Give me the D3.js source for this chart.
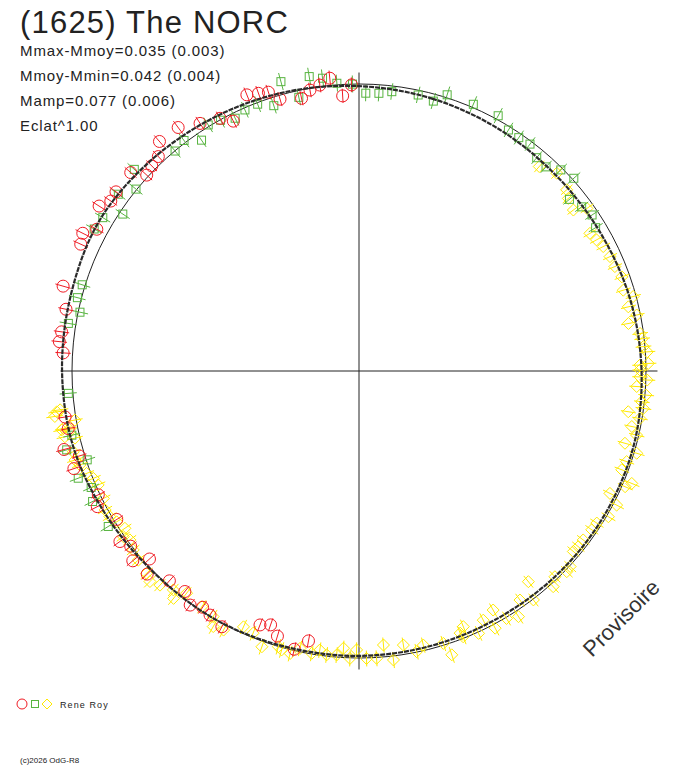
<!DOCTYPE html>
<html>
<head>
<meta charset="utf-8">
<script src="https://cdn.jsdelivr.net/npm/d3@7"></script>
<style>
  body { margin: 0; background: #fff; }
  text { font-family: "Liberation Sans", Arial, sans-serif; fill: #222; }
</style>
</head>
<body>
<div id="chart"></div>
<script>
// polar light curve : angle = rotational phase (deg), radius = brightness
var width = 688, height = 768,
    cx = 359, cy = 371,          // centre of the polar plot
    R = 287;                     // radius of the mean-brightness circle

var title = "(1625) The NORC";
var infoLines = ["Mmax-Mmoy=0.035 (0.003)", "Mmoy-Mmin=0.042 (0.004)", "Mamp=0.077 (0.006)", "Eclat^1.00"];
var observer = "Rene Roy";

// session 1 (red circles) : phase in degrees, delta magnitude
var redPhase = [190.6, 193.1, 197.1, 199.2, 201.3, 208.2, 211.4, 213.5, 215.8, 218.3, 222.1, 226.2, 228.1, 230.0,
  232.5, 234.5, 238.5, 242.6, 244.6, 251.1, 253.1, 255.1, 258.8, 261.1, 273.5, 275.6, 277.5, 281.9, 286.0, 294.5,
  296.5, 298.4, 302.4, 304.4, 306.4, 311.0, 312.7, 314.7, 316.9, 319.0, 323.4, 327.3, 331.2, 333.3, 337.9, 340.1,
  342.0, 343.8, 348.1, 350.1, 352.2, 354.3, 356.6, 358.5];
var redMag = [0.048, 0.005, 0.037, 0.071, 0.056, -0.012, 0.004, 0.014, -0.006, 0.023, 0.016, -0.024, 0.021, -0.031,
  -0.003, -0.025, 0.011, -0.029, -0.006, -0.053, -0.020, -0.067, -0.035, -0.039, -0.035, -0.052, -0.048, -0.046, -0.076, -0.069,
  -0.079, -0.041, -0.076, -0.051, -0.055, -0.057, -0.007, -0.017, -0.025, -0.063, -0.060, -0.027, -0.005, 0.028, -0.041, -0.031,
  -0.023, 0.015, 0.032, 0.007, -0.006, -0.027, 0.044, 0.003];

// session 2 (green squares)
var greenPhase = [1.4, 4.1, 6.7, 12.1, 15.4, 17.7, 23.2, 28.6, 31.8, 34.4, 37.0, 39.8, 42.5, 45.1, 48.1, 50.8, 53.6,
  56.2, 58.8, 238.2, 243.9, 246.5, 249.1, 251.9, 254.9, 257.4, 265.6, 279.3, 281.9, 284.6, 287.3, 298.2, 300.9, 303.6,
  306.3, 309.2, 311.9, 320.1, 322.8, 325.7, 328.5, 331.1, 333.9, 336.4, 339.2, 342.2, 344.9, 347.6, 350.4, 352.9, 355.6, 358.7];
var greenMag = [0.035, 0.033, 0.022, 0.018, 0.027, -0.011, -0.012, -0.014, 0.013, 0.016, 0.011, 0.036, 0.039, 0.008, -0.006, 0.060, 0.040,
  0.025, 0.040, -0.030, -0.036, -0.019, -0.050, 0.004, -0.058, -0.027, -0.017, -0.028, 0.007, -0.015, -0.011, -0.050, -0.043, 0.013,
  -0.043, -0.003, -0.055, 0.001, -0.009, 0.029, -0.006, 0.002, 0.021, 0.008, 0.006, 0.032, -0.047, 0.026, -0.043, -0.030, -0.006, 0.000];

// session 3 (yellow diamonds)
var yellowPhase = [41.4, 45.0, 48.9, 50.5, 53.1, 54.5, 59.2, 61.1, 63.0, 65.5, 67.8, 70.3, 73.0, 74.8, 76.6, 78.6, 80.0,
  82.4, 83.5, 85.1, 86.2, 88.5, 88.8, 89.8, 91.2, 91.8, 93.2, 94.8, 96.2, 97.5, 98.6, 99.6, 101.5, 103.0, 105.2, 106.5,
  108.7, 110.6, 112.4, 113.5, 116.0, 117.5, 120.3, 122.6, 124.3, 127.0, 128.7, 130.1, 132.8, 134.0, 136.4, 138.0, 141.2,
  142.7, 144.9, 147.0, 149.2, 150.7, 152.1, 153.5, 155.5, 157.8, 158.6, 158.9, 161.9, 162.8, 166.8, 168.4, 170.8, 173.2,
  174.9, 176.5, 178.5, 180.5, 181.8, 183.2, 184.5, 186.5, 188.0, 189.5, 192.0, 193.7, 195.5, 196.3, 199.4, 202.0, 204.3,
  207.6, 209.7, 210.7, 213.7, 217.8, 219.2, 220.3, 222.9, 224.8, 226.4, 229.4, 231.6, 233.6, 234.9, 236.1, 238.1, 239.7,
  241.3, 243.5, 246.4, 248.0, 249.4, 251.4, 252.6, 254.2, 256.7, 257.4, 258.6, 258.8, 259.0, 260.2, 261.5, 262.3, 262.6];
var yellowMag = [0.056, 0.028, 0.044, 0.061, 0.074, 0.027, 0.071, 0.061, 0.050, 0.043, 0.041, 0.030, 0.041, 0.011, 0.039, 0.014, 0.052,
  0.013, 0.008, 0.006, -0.007, -0.009, 0.023, 0.023, 0.023, -0.005, 0.034, -0.004, 0.010, 0.001, 0.057, 0.008, 0.033, 0.008, 0.044, -0.010,
  0.017, 0.024, -0.030, -0.012, 0.030, -0.013, -0.007, 0.018, 0.020, 0.024, 0.023, 0.026, -0.003, -0.007, 0.011, -0.012, 0.065,
  -0.003, 0.027, -0.022, -0.004, 0.050, -0.015, 0.033, -0.005, 0.042, 0.006, 0.023, -0.043, 0.007, 0.021, 0.002, 0.036, -0.015,
  0.046, -0.003, -0.002, 0.031, -0.002, 0.036, 0.008, 0.005, 0.020, 0.003, 0.013, -0.014, -0.009, -0.001, -0.020, 0.016, 0.024,
  -0.020, -0.027, 0.005, 0.014, 0.022, -0.024, 0.000, -0.020, -0.036, -0.024, -0.014, -0.004, 0.009, -0.004, 0.019, 0.006, -0.006,
  -0.009, 0.005, 0.009, 0.002, -0.015, -0.028, -0.039, -0.037, -0.018, -0.053, -0.032, -0.059, -0.052, -0.005, -0.075, -0.066, -0.053];

// error of each session (mag)
var sessionErr = [0.028, 0.032, 0.030];
var sessionColor = ["#f01c24", "#58b440", "#ffea00"];

// fitted Fourier curve, read every 15 deg
var fitPhase = [0, 15, 30, 45, 60, 75, 90, 105, 120, 135, 150, 165, 180, 195, 210, 225, 240, 255, 270, 285, 300, 315, 330, 345];
var fitMag = [0.008, 0.019, 0.029, 0.036, 0.034, 0.025, 0.017, 0.009, 0.009, 0.011, 0.013, 0.011, 0.008, 0.006, 0.000,
  -0.002, -0.015, -0.032, -0.037, -0.041, -0.048, -0.034, -0.019, -0.006];

// scales
var angle = d3.scaleLinear().domain([0, 360]).range([0, 2 * Math.PI]);
var radius = d3.scaleLinear().domain([0, 1]).range([0, R]);   // brightness (flux ratio) -> pixels
function flux(m) { return Math.pow(10, -0.4 * m); }
function px(ph, m) { var a = angle(ph), r = radius(flux(m)); return [cx + r * Math.sin(a), cy - r * Math.cos(a)]; }

var svg = d3.select("#chart").append("svg")
    .attr("width", width).attr("height", height);
svg.append("rect").attr("width", width).attr("height", height).attr("fill", "#fff");

// axes
var ax = radius(1.04);
svg.append("line").attr("x1", cx - ax).attr("x2", cx + ax).attr("y1", cy).attr("y2", cy)
  .attr("stroke", "#222").attr("stroke-width", 1);
svg.append("line").attr("x1", cx).attr("x2", cx).attr("y1", cy - ax).attr("y2", cy + ax)
  .attr("stroke", "#222").attr("stroke-width", 1);

// mean circle
svg.append("circle").attr("cx", cx).attr("cy", cy).attr("r", radius(1))
  .attr("fill", "none").attr("stroke", "#222").attr("stroke-width", 1);

var sessions = [
  { phase: redPhase, mag: redMag, shape: "circle" },
  { phase: greenPhase, mag: greenMag, shape: "square" },
  { phase: yellowPhase, mag: yellowMag, shape: "diamond" }
];

function drawMarker(g, shape, color) {
  if (shape === "circle") {
    g.append("circle").attr("r", 6).attr("fill", "none").attr("stroke", color);
  } else if (shape === "square") {
    g.append("rect").attr("x", -4).attr("y", -4).attr("width", 8).attr("height", 8)
      .attr("fill", "none").attr("stroke", color);
  } else {
    g.append("path").attr("d", "M0,-6L6,0L0,6L-6,0Z").attr("fill", "none").attr("stroke", color);
  }
}

// draw yellow first, then green, then red on top
[2, 1, 0].forEach(function(k) {
  var s = sessions[k], col = sessionColor[k], err = sessionErr[k];
  var pts = s.phase.map(function(p, i) { return { p: p, m: s.mag[i] }; });
  var g = svg.append("g");
  // radial error bars
  g.selectAll("line").data(pts).enter().append("line")
    .attr("x1", function(d) { return px(d.p, d.m - err)[0]; })
    .attr("y1", function(d) { return px(d.p, d.m - err)[1]; })
    .attr("x2", function(d) { return px(d.p, d.m + err)[0]; })
    .attr("y2", function(d) { return px(d.p, d.m + err)[1]; })
    .attr("stroke", col).attr("stroke-width", 1);
  g.selectAll("g").data(pts).enter().append("g")
    .attr("transform", function(d) { var q = px(d.p, d.m); return "translate(" + q[0] + "," + q[1] + ")"; })
    .each(function() { drawMarker(d3.select(this), s.shape, col); });
});

// fitted curve
var fit = fitPhase.map(function(p, i) { return { p: p, m: fitMag[i] }; });
svg.append("path")
  .datum(fit)
  .attr("transform", "translate(" + cx + "," + cy + ")")
  .attr("d", d3.lineRadial()
      .angle(function(d) { return angle(d.p); })
      .radius(function(d) { return radius(flux(d.m)); })
      .curve(d3.curveCatmullRomClosed))
  .attr("fill", "none").attr("stroke", "#2a2a2a").attr("stroke-width", 2.2)
  .attr("stroke-dasharray", "5,1");

// title and info
svg.append("text").attr("x", 20).attr("y", 33).style("font-size", "31px")
  .style("letter-spacing", "1.2px").text(title);
svg.selectAll(".info").data(infoLines).enter().append("text")
  .attr("class", "info")
  .attr("x", 20).attr("y", function(d, i) { return 56 + i * 25; })
  .style("font-size", "15px").style("letter-spacing", "0.9px")
  .text(function(d) { return d; });

// watermark
svg.append("text").attr("transform", "translate(592,658) rotate(-45)")
  .style("font-size", "22px").style("fill", "#333").text("Provisoire");

// legend
var leg = svg.append("g").attr("transform", "translate(0,704)");
leg.append("circle").attr("cx", 22).attr("r", 5).attr("fill", "none").attr("stroke", sessionColor[0]);
leg.append("rect").attr("x", 31.5).attr("y", -3.5).attr("width", 7).attr("height", 7)
  .attr("fill", "none").attr("stroke", sessionColor[1]);
leg.append("path").attr("d", "M47,-5L52,0L47,5L42,0Z").attr("fill", "none").attr("stroke", sessionColor[2]);
leg.append("text").attr("x", 60).attr("y", 3.5).style("font-size", "9px")
  .style("letter-spacing", "1.1px").text(observer);

svg.append("text").attr("x", 20).attr("y", 763).style("font-size", "8px").text("(c)2026 OdG-R8");
</script>
</body>
</html>
